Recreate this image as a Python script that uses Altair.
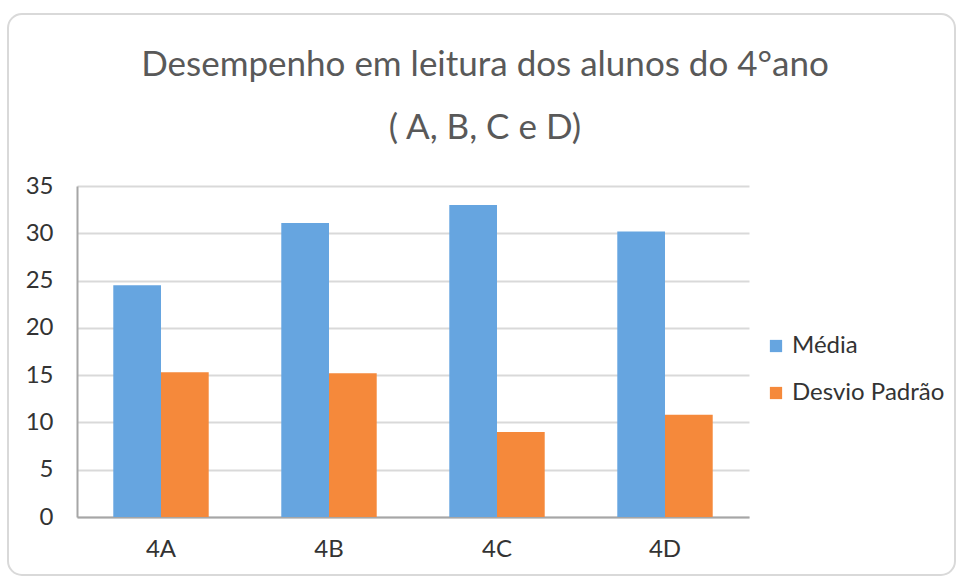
import altair as alt
import pandas as pd

turmas = ["4A", "4B", "4C", "4D"]
series = ["Média", "Desvio Padrão"]
media = [24.5, 31.1, 33.0, 30.2]
desvio = [15.3, 15.2, 9.0, 10.8]
colors = ["#66A5E0", "#F5893B"]
title_lines = ["Desempenho em leitura dos alunos do 4°ano", "( A, B, C e D)"]
y_ticks = [0, 5, 10, 15, 20, 25, 30, 35]

rows = []
for t, m, d in zip(turmas, media, desvio):
    rows.append({"turma": t, "serie": series[0], "valor": m})
    rows.append({"turma": t, "serie": series[1], "valor": d})
df = pd.DataFrame(rows)

FONT = "Lato"

bars = alt.Chart(df).mark_bar().encode(
    x=alt.X("turma:N", sort=turmas,
            scale=alt.Scale(paddingInner=0.432, paddingOuter=0.216),
            axis=alt.Axis(title=None, labelAngle=0, ticks=False, domain=True,
                          domainColor="#a6a6a6", domainWidth=2,
                          labelFontSize=24, labelFont=FONT, labelColor="#333333",
                          labelPadding=20)),
    xOffset=alt.XOffset("serie:N", sort=series,
                        scale=alt.Scale(paddingInner=0, paddingOuter=0)),
    y=alt.Y("valor:Q", scale=alt.Scale(domain=[0, 35], nice=False),
            axis=alt.Axis(title=None, values=y_ticks, ticks=False, domain=True,
                          domainColor="#a6a6a6", domainWidth=2,
                          grid=True, gridColor="#d9d9d9", gridWidth=2,
                          labelFontSize=24, labelFont=FONT, labelColor="#333333",
                          labelPadding=24)),
    color=alt.Color("serie:N", sort=series,
                    scale=alt.Scale(domain=series, range=colors),
                    legend=alt.Legend(title=None, orient="none", legendX=687, legendY=148,
                                      symbolType="square", symbolSize=150,
                                      symbolStrokeWidth=0, labelFontSize=24,
                                      labelFont=FONT, labelColor="#333333",
                                      rowPadding=23, labelOffset=4)),
)

frame = alt.Chart(pd.DataFrame({"a": [0]})).mark_rect(
    fillOpacity=0, stroke="#d9d9d9", strokeWidth=2, cornerRadius=14
).encode(
    x=alt.value(-69), x2=alt.value(878), y=alt.value(-172), y2=alt.value(389)
)

chart = alt.layer(frame, bars).properties(
    width=672, height=331,
    autosize=alt.AutoSizeParams(type="none"),
    padding={"left": 77, "top": 186, "right": 209, "bottom": 63},
    title=alt.TitleParams(text=title_lines, fontSize=35, font=FONT, color="#595959",
                          fontWeight="normal", anchor="middle", frame="group",
                          dx=72, offset=-133, lineHeight=63),
    background="white",
).configure_view(stroke=None)

chart.save("out.html", embed_options={"renderer": "svg", "actions": False})
